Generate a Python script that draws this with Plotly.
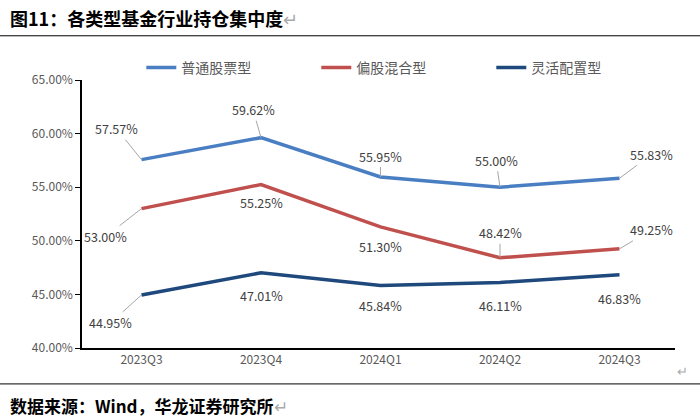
import plotly.graph_objects as go

quarters = ["2023Q3", "2023Q4", "2024Q1", "2024Q2", "2024Q3"]
stock_fund = [57.57, 59.62, 55.95, 55.00, 55.83]
mixed_equity = [53.00, 55.25, 51.30, 48.42, 49.25]
flexible = [44.95, 47.01, 45.84, 46.11, 46.83]

names = ["普通股票型", "偏股混合型", "灵活配置型"]
colors = ["#4a7ec2", "#c0504d", "#1f497d"]

# label offsets (px) per series/point: (ax, ay, leader line?)
offsets = [
    [(-25, -31, True), (-8, -28, True), (0, -21, True), (-4, -27, True), (32, -24, True)],
    [(-36, 28, True), (0, 18, False), (0, 20, False), (0, -25, True), (32, -19, True)],
    [(-31, 28, True), (0, 23, False), (0, 20, False), (0, 23, False), (0, 24, False)],
]

fig = go.Figure()
series = [stock_fund, mixed_equity, flexible]
for name, vals, c in zip(names, series, colors):
    fig.add_trace(go.Scatter(x=quarters, y=vals, name=name, mode="lines",
                             line=dict(color=c, width=3.5)))

for vals, offs in zip(series, offsets):
    for q, v, (ax, ay, lead) in zip(quarters, vals, offs):
        if lead:
            fig.add_annotation(x=q, y=v, text=f"{v:.2f}%", showarrow=True, arrowhead=0,
                               arrowwidth=1, arrowcolor="#a6a6a6", ax=ax, ay=ay,
                               font=dict(size=12.5, color="#404040"))
        else:
            fig.add_annotation(x=q, y=v, text=f"{v:.2f}%", showarrow=False, yshift=-ay,
                               font=dict(size=12.5, color="#404040"))

fig.add_annotation(xref="paper", yref="paper", x=-0.125, y=1.231, xanchor="left", yanchor="middle",
                   text="<b>图11：各类型基金行业持仓集中度</b><span style='color:#aaaaaa'>↵</span>",
                   showarrow=False, font=dict(size=18, color="#000000", family="Noto Sans CJK SC"))
fig.add_annotation(xref="paper", yref="paper", x=-0.125, y=-0.214, xanchor="left", yanchor="middle",
                   text="<b>数据来源：Wind，华龙证券研究所</b><span style='color:#aaaaaa'>↵</span>",
                   showarrow=False, font=dict(size=17, color="#000000", family="Noto Sans CJK SC"))
fig.add_annotation(xref="paper", yref="paper", x=1.0, y=-0.085, xanchor="left", yanchor="middle",
                   text="↵", showarrow=False, font=dict(size=13, color="#aaaaaa"))

fig.add_shape(type="line", xref="paper", yref="paper", x0=-0.14, x1=1.05, y0=1.165, y1=1.165,
              line=dict(color="#000000", width=1))
fig.add_shape(type="line", xref="paper", yref="paper", x0=-0.14, x1=1.05, y0=-0.134, y1=-0.134,
              line=dict(color="#000000", width=1))

fig.update_layout(
    width=700, height=420,
    margin=dict(l=82, r=25, t=80, b=72, autoexpand=False),
    plot_bgcolor="white", paper_bgcolor="white",
    font=dict(family="Noto Sans CJK SC, Noto Sans", color="#595959"),
    showlegend=True,
    legend=dict(orientation="h", x=0.1, xanchor="left", y=1.045, yanchor="middle",
                font=dict(size=14, color="#595959"),
                entrywidth=130, entrywidthmode="pixels"),
)
fig.update_xaxes(showline=True, linecolor="#000000", linewidth=1.5, ticks="",
                 tickfont=dict(size=12, color="#595959"), showgrid=False)
fig.update_yaxes(range=[40, 65], dtick=5, tickformat=".2f", ticksuffix="%",
                 showline=True, linecolor="#000000", linewidth=1.5, ticks="outside",
                 ticklen=5, tickcolor="#000000", showgrid=False, zeroline=False,
                 tickfont=dict(size=12, color="#595959"))

# page has a default 8px body margin; drop it so the 700x420 figure fills the window
fig.write_html("out.html", config={"displayModeBar": False},
               post_script="document.body.style.margin='0';")
